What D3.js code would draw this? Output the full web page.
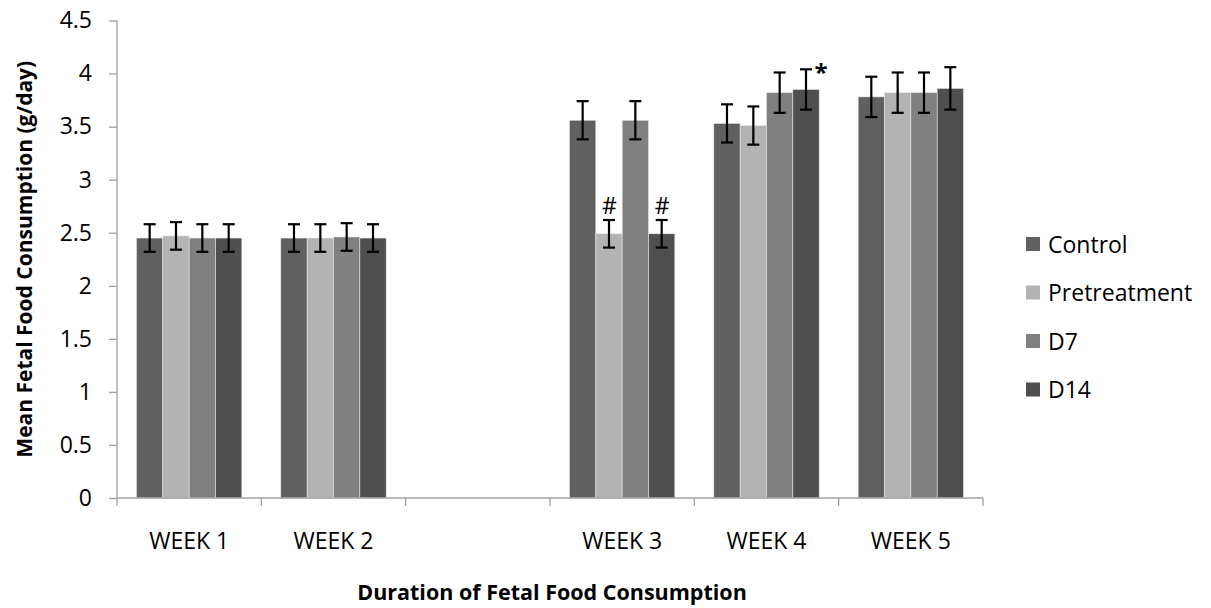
<!DOCTYPE html>
<html>
<head>
<meta charset="utf-8">
<script src="https://cdn.jsdelivr.net/npm/d3@7/dist/d3.min.js"></script>
<style>
  body { margin: 0; background: #fff; }
  svg text { font-family: "Open Sans", "Noto Sans", sans-serif; fill: #000; }
</style>
</head>
<body>
<svg id="chart" width="1211" height="608"></svg>
<script>
// Weekly groups; the blank slot separates the first two weeks from the rest
const categories = ["WEEK 1", "WEEK 2", "", "WEEK 3", "WEEK 4", "WEEK 5"];
const seriesNames = ["Control", "Pretreatment", "D7", "D14"];
const seriesColors = ["#606060", "#b3b3b3", "#808080", "#4f4f4f"];

// Mean values (g/day), one array per series, aligned with categories
const control      = [2.45, 2.45, null, 3.56, 3.53, 3.78];
const pretreatment = [2.47, 2.45, null, 2.49, 3.51, 3.82];
const d7           = [2.45, 2.46, null, 3.56, 3.82, 3.82];
const d14          = [2.45, 2.45, null, 2.49, 3.85, 3.86];

// Error bar half-widths
const controlErr      = [0.13, 0.13, null, 0.18, 0.18, 0.19];
const pretreatmentErr = [0.13, 0.13, null, 0.13, 0.18, 0.19];
const d7Err           = [0.13, 0.13, null, 0.18, 0.19, 0.19];
const d14Err          = [0.13, 0.13, null, 0.13, 0.19, 0.20];

const yTicks = [0, 0.5, 1, 1.5, 2, 2.5, 3, 3.5, 4, 4.5];

// Significance marks: [category, series index, symbol]
const marks = [["WEEK 3", 1, "#"], ["WEEK 3", 3, "#"], ["WEEK 4", 3, "*"]];

const values = [control, pretreatment, d7, d14];
const errors = [controlErr, pretreatmentErr, d7Err, d14Err];

const svg = d3.select("#chart");
const plotLeft = 117, plotRight = 983, plotTop = 20.5, plotBottom = 498;

const x = d3.scaleBand().domain(categories).range([plotLeft, plotRight]).paddingInner(0.27).paddingOuter(0.135);
const xs = d3.scaleBand().domain(d3.range(seriesNames.length)).range([0, x.bandwidth()]);
const y = d3.scaleLinear().domain([0, 4.5]).range([plotBottom, plotTop]);

const axisColor = "#a0a0a0";

// Bars
seriesNames.forEach((name, si) => {
  const g = svg.append("g");
  categories.forEach((c, ci) => {
    const v = values[si][ci];
    if (v == null) return;
    g.append("rect")
      .attr("x", x(c) + xs(si))
      .attr("y", y(v))
      .attr("width", xs.bandwidth())
      .attr("height", y(0) - y(v))
      .attr("fill", seriesColors[si])
      .attr("stroke", "#e6e6e6")
      .attr("stroke-width", 0.6);
  });
});

// Error bars
seriesNames.forEach((name, si) => {
  categories.forEach((c, ci) => {
    const v = values[si][ci];
    if (v == null) return;
    const e = errors[si][ci];
    const cx = x(c) + xs(si) + xs.bandwidth() / 2;
    const g = svg.append("g").attr("stroke", "#000").attr("stroke-width", 2.2);
    g.append("line").attr("x1", cx).attr("x2", cx).attr("y1", y(v + e)).attr("y2", y(v - e));
    g.append("line").attr("x1", cx - 6).attr("x2", cx + 6).attr("y1", y(v + e)).attr("y2", y(v + e));
    g.append("line").attr("x1", cx - 6).attr("x2", cx + 6).attr("y1", y(v - e)).attr("y2", y(v - e));
  });
});

// Significance symbols
marks.forEach(([c, si, sym]) => {
  const ci = categories.indexOf(c);
  const v = values[si][ci] + errors[si][ci];
  const cx = x(c) + xs(si) + xs.bandwidth() / 2;
  if (sym === "*") {
    svg.append("text").attr("x", cx + 15).attr("y", y(v) + 12)
      .attr("font-size", 24).attr("font-weight", "bold").attr("text-anchor", "middle").text(sym);
  } else {
    svg.append("text").attr("x", cx + 0.5).attr("y", y(v) - 6)
      .attr("font-size", 23).attr("text-anchor", "middle").text(sym);
  }
});

// Y axis
const yAxis = svg.append("g").attr("transform", `translate(${plotLeft},0)`)
  .call(d3.axisLeft(y).tickValues(yTicks).tickSize(8).tickPadding(17).tickFormat(d3.format("")));
yAxis.selectAll("line").attr("stroke", axisColor).attr("stroke-width", 1.3);
yAxis.select(".domain").attr("stroke", axisColor).attr("stroke-width", 1.3).attr("d", `M0,${plotTop}V${plotBottom}`);
yAxis.selectAll("text").attr("font-size", 23).style("font-family", '"Open Sans", sans-serif');

// X axis with ticks on category boundaries
const xAxis = svg.append("g").attr("transform", `translate(0,${plotBottom})`);
xAxis.append("line").attr("x1", plotLeft).attr("x2", plotRight).attr("stroke", axisColor).attr("stroke-width", 1.3);
const step = (plotRight - plotLeft) / categories.length;
d3.range(categories.length + 1).forEach(i => {
  const bx = plotLeft + i * step;
  xAxis.append("line").attr("x1", bx).attr("x2", bx).attr("y1", 0).attr("y2", 8)
    .attr("stroke", axisColor).attr("stroke-width", 1.3);
});
categories.forEach(c => {
  xAxis.append("text").attr("x", x(c) + x.bandwidth() / 2).attr("y", 51)
    .attr("font-size", 23).attr("text-anchor", "middle").text(c);
});

// Axis titles
svg.append("text").attr("x", 552).attr("y", 600)
  .attr("font-size", 21.5).attr("font-weight", "bold").attr("text-anchor", "middle")
  .text("Duration of Fetal Food Consumption");
svg.append("text").attr("transform", `translate(32,${(plotTop + plotBottom) / 2}) rotate(-90)`)
  .attr("font-size", 21).attr("font-weight", "bold").attr("text-anchor", "middle")
  .text("Mean Fetal Food Consumption (g/day)");

// Legend
const legend = svg.append("g").attr("transform", "translate(1026,244)");
seriesNames.forEach((name, i) => {
  const row = legend.append("g").attr("transform", `translate(0,${i * 48.5})`);
  row.append("rect").attr("x", 0).attr("y", -7).attr("width", 14).attr("height", 14).attr("fill", seriesColors[i]);
  row.append("text").attr("x", 22).attr("y", 8.5).attr("font-size", 23).text(name);
});
</script>
</body>
</html>
